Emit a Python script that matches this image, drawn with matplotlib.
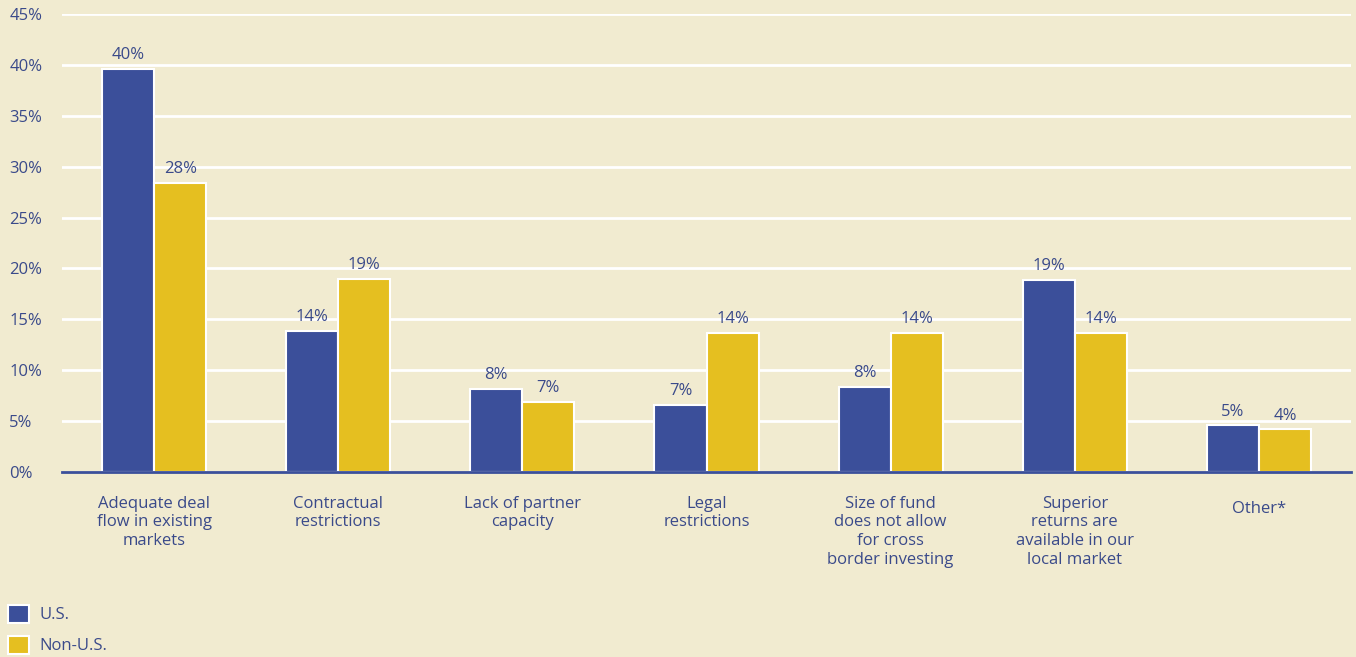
import matplotlib
matplotlib.use("Agg")
import matplotlib.pyplot as plt
import matplotlib.transforms as mtransforms
from matplotlib.patches import Patch
import numpy as np

categories = [
    "Adequate deal\nflow in existing\nmarkets",
    "Contractual\nrestrictions",
    "Lack of partner\ncapacity",
    "Legal\nrestrictions",
    "Size of fund\ndoes not allow\nfor cross\nborder investing",
    "Superior\nreturns are\navailable in our\nlocal market",
    "Other*",
]
us_values = [39.6, 13.9, 8.2, 6.6, 8.4, 18.9, 4.6]
non_us_values = [28.4, 19.0, 6.9, 13.7, 13.7, 13.7, 4.2]
series_names = ["U.S.", "Non-U.S."]
y_ticks = [0, 5, 10, 15, 20, 25, 30, 35, 40, 45]

BG = "#F1EBD0"
BLUE = "#3B4F9A"
YELLOW = "#E5BF20"
TEXT = "#3A4A8A"

plt.rcParams["font.family"] = ["Open Sans", "DejaVu Sans"]
FS = 12

W, H = 1356, 657
fig = plt.figure(figsize=(W / 100, H / 100), dpi=100, facecolor=BG)
ax = fig.add_axes([62 / W, (H - 472) / H, (1351 - 62) / W, (472 - 14) / H])
ax.set_facecolor(BG)

x = np.arange(len(categories))
bw = 0.283
b1 = ax.bar(x - bw / 2, us_values, bw, color=BLUE, edgecolor="white", linewidth=1.5, zorder=3)
b2 = ax.bar(x + bw / 2, non_us_values, bw, color=YELLOW, edgecolor="white", linewidth=1.5, zorder=3)

for bars, vals in ((b1, us_values), (b2, non_us_values)):
    for rect, v in zip(bars, vals):
        ax.annotate(f"{v:.0f}%", (rect.get_x() + rect.get_width() / 2, v),
                    xytext=(0, 4), textcoords="offset points",
                    ha="center", va="bottom", fontsize=FS, color=TEXT)

ax.set_xlim(-0.5, len(categories) - 0.5)
ax.set_ylim(0, 45)
ax.set_yticks(y_ticks)
ax.set_yticklabels([f"{t}%" for t in y_ticks])
for lab in ax.get_yticklabels():
    lab.set_ha("left")
ax.tick_params(axis="y", length=0, pad=38, labelsize=FS, labelcolor=TEXT)

ax.set_xticks(x)
ax.set_xticklabels(categories, fontsize=FS, color=TEXT, linespacing=1.22)
ax.tick_params(axis="x", length=0, pad=17)
last = ax.get_xticklabels()[-1]
last.set_transform(last.get_transform() + mtransforms.ScaledTranslation(0, -5 / 100, fig.dpi_scale_trans))

ax.grid(axis="y", color="white", linewidth=2, zorder=0)
ax.set_axisbelow(True)
for s in ("top", "right", "left"):
    ax.spines[s].set_visible(False)
ax.spines["bottom"].set_color(BLUE)
ax.spines["bottom"].set_linewidth(2)
ax.spines["bottom"].set_zorder(4)

handles = [Patch(facecolor=BLUE, edgecolor="white", linewidth=1.5),
           Patch(facecolor=YELLOW, edgecolor="white", linewidth=1.5)]
leg = fig.legend(handles, series_names, loc="lower left",
                 bbox_to_anchor=(1 / W, -4 / H), frameon=False,
                 handlelength=1.3, handleheight=1.3, handletextpad=0.6,
                 labelspacing=0.75, fontsize=FS, borderaxespad=0)
for t in leg.get_texts():
    t.set_color(TEXT)

fig.savefig("out.png", dpi=100, facecolor=BG)
